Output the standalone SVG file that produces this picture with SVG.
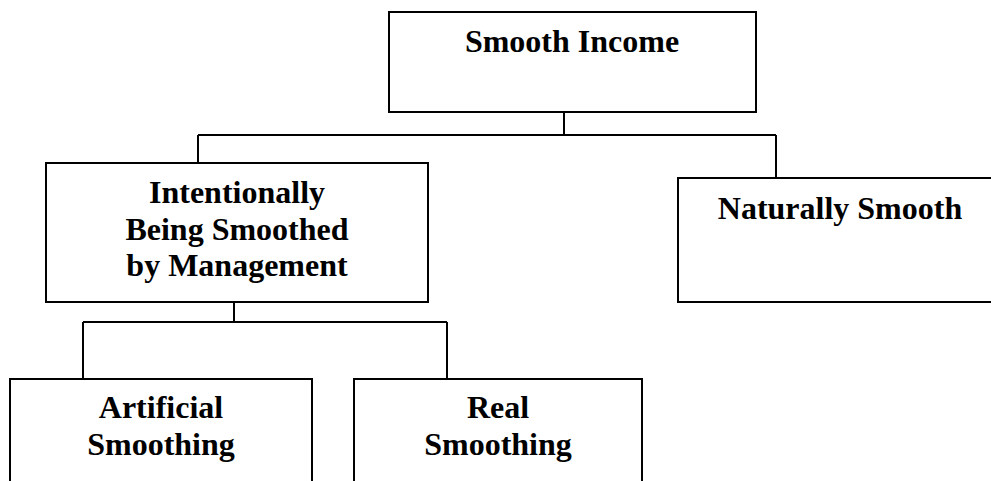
<svg xmlns="http://www.w3.org/2000/svg" width="991" height="481" viewBox="0 0 991 481">
<style>
.box{fill:#fff;stroke:#000;stroke-width:2}
.lbl{font-family:"Liberation Serif","Times New Roman",serif;font-weight:bold;font-size:32px;fill:#000;text-anchor:middle}
.conn{fill:none;stroke:#000;stroke-width:2}
</style>
<rect width="991" height="481" fill="#fff"/>
<g id="connectors" class="conn">
<path d="M564 112 V135"/>
<path d="M198 135 H776"/>
<path d="M198 135 V163"/>
<path d="M776 135 V178"/>
<path d="M234 302 V322"/>
<path d="M83 322 H447"/>
<path d="M83 322 V379"/>
<path d="M447 322 V379"/>
</g>
<g id="smooth-income">
<rect class="box" x="389" y="12" width="367" height="100"/>
<text class="lbl" x="572" y="52">Smooth Income</text>
</g>
<g id="intentionally">
<rect class="box" x="46" y="163" width="382" height="139"/>
<text class="lbl" x="237" y="203">Intentionally</text>
<text class="lbl" x="237" y="240">Being Smoothed</text>
<text class="lbl" x="237" y="276">by Management</text>
</g>
<g id="naturally">
<rect class="box" x="678" y="178" width="324" height="124"/>
<text class="lbl" x="840" y="219">Naturally Smooth</text>
</g>
<g id="artificial">
<rect class="box" x="10" y="379" width="302" height="130"/>
<text class="lbl" x="161" y="418">Artificial</text>
<text class="lbl" x="161" y="455">Smoothing</text>
</g>
<g id="real">
<rect class="box" x="354" y="379" width="288" height="130"/>
<text class="lbl" x="498" y="418">Real</text>
<text class="lbl" x="498" y="455">Smoothing</text>
</g>
</svg>
